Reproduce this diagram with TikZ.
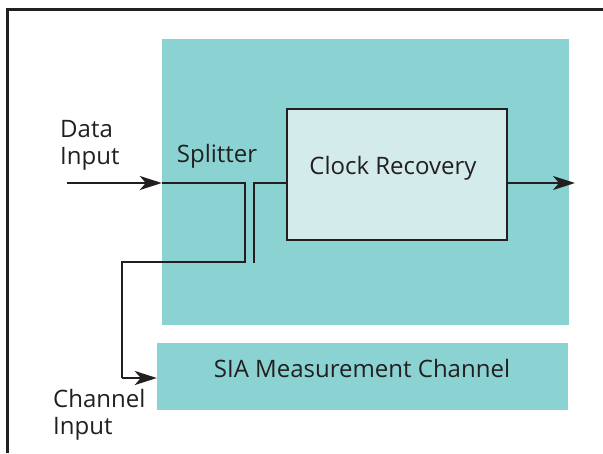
\documentclass[tikz,border=0pt]{standalone}
\usepackage{fontspec}
\setmainfont{Open Sans}
\usetikzlibrary{arrows.meta}
\definecolor{tealbg}{HTML}{8BD3D2}
\definecolor{tealpale}{HTML}{D3EBEB}
\definecolor{ink}{HTML}{231F20}
\tikzset{
    panel/.style={fill=tealbg, draw=none, inner sep=0pt},
    blockbox/.style={fill=tealpale, draw=ink, line width=2.2pt, inner sep=0pt},
    wire/.style={draw=ink, line width=2.2pt},
    arr/.style={wire, -{Stealth[length=22pt, width=14pt, inset=6pt]}},
    lbl/.style={text=ink, font=\fontsize{24}{27}\selectfont, inner sep=0pt},
}
\begin{document}
\begin{tikzpicture}[x=1pt, y=-1pt]
        \useasboundingbox (0,0) rectangle (603,453);

        % frame
        \draw[ink, line width=3pt] (7,453) -- (7,9) -- (603,9);

        % boxes
        \node[panel, minimum width=407pt, minimum height=286pt] (outer) at (365.5,182) {};
        \node[panel, minimum width=411pt, minimum height=67pt] (sia) at (362.5,376.5) {};
        \node[lbl, anchor=base] at (362,377) {SIA Measurement Channel};
        \node[blockbox, minimum width=220pt, minimum height=131pt] (clock) at (397,174.5) {};
        \node[lbl, anchor=base] at (393,174) {Clock Recovery};

        % labels
        \node[lbl, align=left, anchor=base west] (datain) at (60,164) {Data\\Input};
        \node[lbl, align=left, anchor=base west] (chanin) at (53,434) {Channel\\Input};
        \node[lbl, anchor=base] (split) at (217,162) {Splitter};

        % splitter wires
        \coordinate (din) at (67,183);
        \coordinate (sa) at (245,183);
        \coordinate (sb) at (245,262);
        \coordinate (sc) at (122,262);
        \coordinate (sd) at (122,378);
        \coordinate (se) at (254,263);
        \coordinate (sf) at (254,183);
        \coordinate (dout) at (575,183);

        \draw[arr] (din) -- (outer.west |- din);
        \draw[wire] (outer.west |- din) -- (sa) -- (sb) -- (sc) -- (sd);
        \draw[arr] (sd) -- (sia.west |- sd);
        \draw[wire] (se) -- (sf) -- (clock.west |- sf);
        \draw[arr] (clock.east |- dout) -- (dout);
    \end{tikzpicture}
\end{document}
